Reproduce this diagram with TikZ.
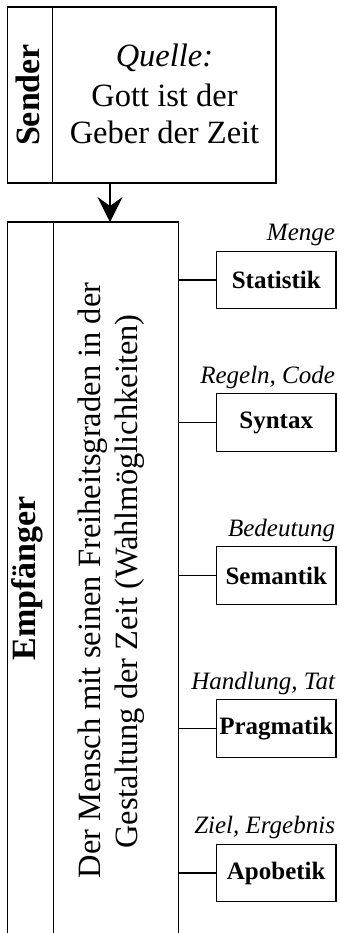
\documentclass[tikz,border=0pt]{standalone}
\usepackage{fontspec}
\setmainfont{Liberation Serif}
\usetikzlibrary{arrows.meta}
\begin{document}
\begin{tikzpicture}[x=1pt,y=-1pt, line width=1.2pt,
  stage/.style={draw, rectangle, minimum width=119.5pt, minimum height=57.5pt, inner sep=0pt, font=\fontsize{25}{30}\selectfont\bfseries},
  lab/.style={anchor=base east, inner sep=0pt, font=\fontsize{25}{30}\selectfont\itshape},
  side/.style={rotate=90, anchor=base, inner sep=0pt, font=\fontsize{34}{40}\selectfont\bfseries},
  body/.style={anchor=base, inner sep=0pt, font=\fontsize{32.5}{37.5}\selectfont},
  conn/.style={line width=1.2pt}]
\useasboundingbox (0,0) rectangle (339,933);
% Sender box
\node[draw, rectangle, minimum width=268.7pt, minimum height=176pt, inner sep=0pt] (sender) at (141.65,95) {};
\draw ([xshift=46pt]sender.north west) -- ([xshift=46pt]sender.south west);
\node[side] (sl) at (39,95) {Sender};
\node[body] (q) at (164.5,67) {\itshape Quelle:};
\node[body] (g1) at (164.5,106.5) {Gott ist der};
\node[body] (g2) at (164.5,144) {Geber der Zeit};
% Empfaenger frame (open at the bottom)
\coordinate (ebl) at (7.3,933);
\coordinate (etl) at (7.3,222);
\coordinate (etr) at (178.3,222);
\coordinate (ebr) at (178.3,933);
\coordinate (edt) at (53.3,222);
\coordinate (edb) at (53.3,933);
\draw (ebl) -- (etl) -- (etr) -- (ebr);
\draw (edt) -- (edb);
\node[side] (el) at (35,578.5) {Empfänger};
\node[body, rotate=90] (m1) at (100,580.5) {Der Mensch mit seinen Freiheitsgraden in der};
\node[body, rotate=90] (m2) at (137.5,581.5) {Gestaltung der Zeit (Wahlmöglichkeiten)};
% arrow
\coordinate (at) at (110,222);
\draw[-{Stealth[length=25pt,width=25pt,inset=9pt]}] (sender.south -| at) -- (at);
% stages
\node[stage] (st) at (276.25,280) {Statistik};
\node[stage] (sy) at (276.25,422.5) {Syntax};
\node[stage] (se) at (276.25,575.5) {Semantik};
\node[stage] (pr) at (276.25,728.5) {Pragmatik};
\node[stage] (ap) at (276.25,873) {Apobetik};
\foreach \b/\t in {st/Menge, sy/{Regeln, Code}, se/Bedeutung, pr/{Handlung, Tat}, ap/{Ziel, Ergebnis}}{
  \node[lab] (l\b) at ([xshift=-1pt,yshift=10pt]\b.north east) {\t};
  \draw[conn] (\b.west) -- (\b.west -| etr);
}
\end{tikzpicture}
\end{document}
